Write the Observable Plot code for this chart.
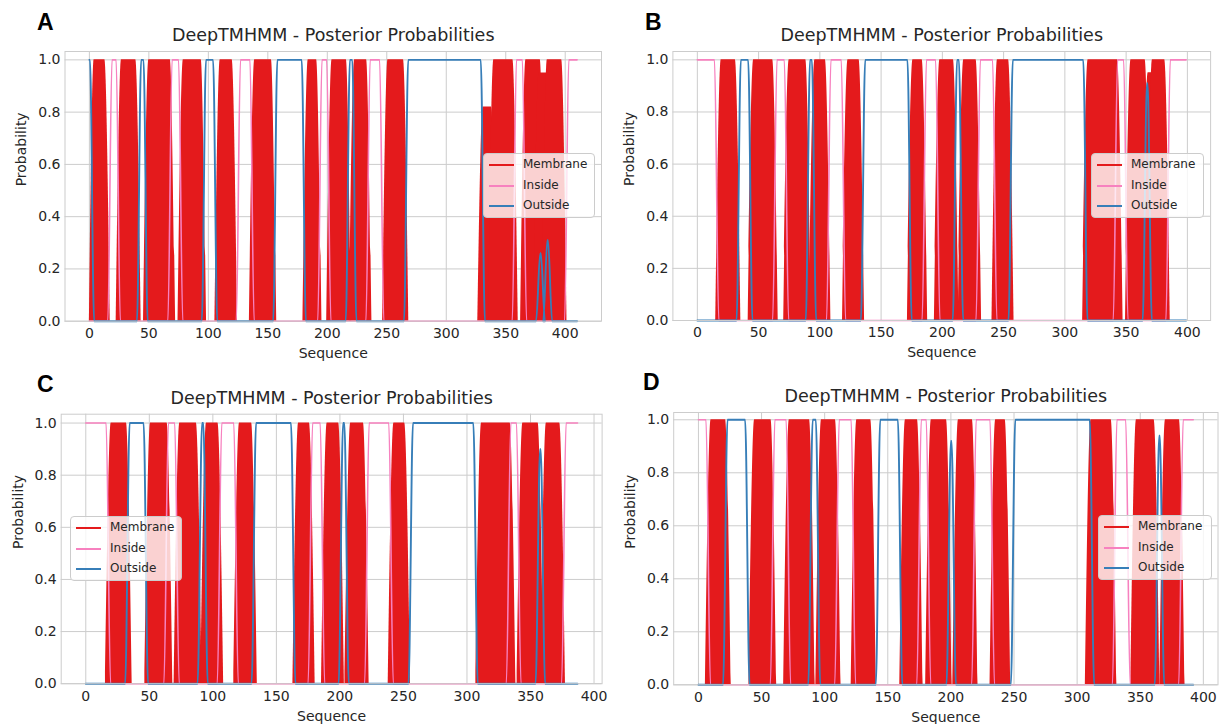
<!DOCTYPE html>
<html>
<head>
<meta charset="utf-8">
<script src="https://cdn.jsdelivr.net/npm/d3@7"></script>
<script src="https://cdn.jsdelivr.net/npm/@observablehq/plot@0.6"></script>
<style>
  body { margin: 0; background: #fff; font-family: "DejaVu Sans", sans-serif; }
  #wrap { position: relative; width: 1219px; height: 724px; overflow: hidden; background: #fff; }
  .panel { position: absolute; }
  .panel svg { position: absolute; left: 0; top: 0; overflow: visible; }
  .letter { position: absolute; font-family: "Liberation Sans", Arial, sans-serif; font-weight: bold; font-size: 23px; line-height: 1; color: #000; }
  .legend { position: absolute; background: rgba(255,255,255,0.8); border: 1px solid #cccccc; border-radius: 4px; box-sizing: border-box; font-family: "DejaVu Sans", sans-serif; font-size: 12px; color: #262626; }
  .legend .row { position: absolute; left: 0; height: 14px; }
  .legend .sw { position: absolute; left: 5px; top: 6px; width: 25px; height: 2px; }
  .legend .lb { position: absolute; left: 39px; top: -1px; white-space: nowrap; line-height: 14px; }
</style>
</head>
<body>
<div id="wrap"></div>
<script>
// ---------- data ----------
const seriesNames = ["Membrane", "Inside", "Outside"];
const seriesColors = ["#e41a1c", "#f781bf", "#377eb8"];
const chartTitle = "DeepTMHMM - Posterior Probabilities";
const xTicks = [0, 50, 100, 150, 200, 250, 300, 350, 400];
const yTicks = [0, 0.2, 0.4, 0.6, 0.8, 1.0];
const panelLetters = ["A", "B", "C", "D"];
const seqLengths = [410, 399, 387, 392];

// segments: [start, end, peak(optional)] -- plateau of the posterior probability
const membraneA = [[4,13],[27,39],[50,68],[79,94],[110,120],[139,153],[184,191],[204,216],[223,233],[251,264],[331,338,0.82],[340,356],[367,379],[378,385,0.95],[385,397]];
const insideA   = [[19,22.5],[69.5,75],[127,135],[195.5,199.5],[236,244],[359,364],[403,410]];
const outsideA  = [[0,0.5],[43.5,45.5],[98,104],[158,178.5],[219,221],[268,329],[379,379.5,0.26],[385,385.5,0.31]];

const membraneB = [[19.5,31],[46,61.5],[75,88.5],[96,104.5],[123,132],[176,183.5],[198,209],[217.5,227.5],[245,254],[319,343],[354,365.5],[368,371,0.95],[371.5,381.5]];
const insideB   = [[0,14],[65,71],[109,117.5],[187,194.5],[231,241],[343,348],[386,399]];
const outsideB  = [[35.5,41.5],[92,93.5],[137,171.5],[212,213.5],[257.5,315],[367,367.5,0.91]];

const membraneC = [[20,32],[51,64],[74,87],[95,104],[121,130.5],[167.5,176],[190,199],[208.5,218.5],[242.5,251],[311.5,334],[344,356],[362.5,373]];
const insideC   = [[0,16],[65,70],[107,116.5],[178.5,184.5],[223,238.5],[334.5,339],[378,387]];
const outsideC  = [[34.5,45.5],[91.5,92.5],[134,161.5],[202.5,203.5],[257.5,305],[357.5,358,0.9]];

const membraneD = [[10,21.5],[44.5,57.5],[72,88],[97.5,108.5],[125.5,136.5],[164,173.5],[184.5,196.5],[206,217],[235.5,243],[311,327],[347,361],[370,381]];
const insideD   = [[0,6],[60.5,69.5],[111.5,121],[176.5,180.5],[220,231],[331.5,338.5],[384,392]];
const outsideD  = [[23,37],[90.5,93],[144,158],[200,200.5,0.92],[251,310],[365,365.5,0.94]];

// ---------- layout ----------
const layout = [
  {left: 0,   top: 0,   w: 610, h: 362, ml: 64.5, mr: 9,   mt: 51,   mb: 41.3, ymax: 1.032,
   legend: {l: 483, t: 153, w: 112, h: 65}, letter: {l: 37, t: 11}},
  {left: 610, top: 0,   w: 609, h: 362, ml: 62.4, mr: 8.9, mt: 51,   mb: 42,   ymax: 1.032,
   legend: {l: 481, t: 153, w: 113, h: 65}, letter: {l: 35, t: 11}},
  {left: 0,   top: 362, w: 610, h: 362, ml: 60.7, mr: 8.4, mt: 51.7, mb: 40.8, ymax: 1.034,
   legend: {l: 70, t: 154, w: 112, h: 65}, letter: {l: 37, t: 11}},
  {left: 610, top: 362, w: 609, h: 362, ml: 63.2, mr: 1.5, mt: 50,   mb: 39.7, ymax: 1.0275,
   legend: {l: 488, t: 153, w: 114, h: 65}, letter: {l: 33, t: 9}}
];

const panelsData = [
  [membraneA, insideA, outsideA],
  [membraneB, insideB, outsideB],
  [membraneC, insideC, outsideC],
  [membraneD, insideD, outsideD]
];

function lineRows(segs, L, r) {
  const pts = [];
  segs.forEach(([s, e, p = 1], i) => {
    if (s <= 0) { pts.push([0, p]); }
    else {
      if (i === 0) pts.push([0, 0]);
      pts.push([Math.max(0, s - r), 0], [s, p]);
    }
    if (e >= L) { pts.push([L, p]); }
    else {
      pts.push([e, p], [Math.min(L, e + r), 0]);
      if (i === segs.length - 1) pts.push([L, 0]);
    }
  });
  // drop repeated x positions so the smooth curve stays well defined
  const out = [];
  for (const [x, y] of pts) {
    if (out.length && Math.abs(out[out.length - 1].x - x) < 1e-9) continue;
    out.push({x, y});
  }
  return out;
}

function membraneRows(segs, L, r) {
  const rows = [];
  segs.forEach(([s, e, p = 1], i) => {
    rows.push({seg: i, x: Math.max(0, s - r), y: 0});
    rows.push({seg: i, x: s, y: p});
    rows.push({seg: i, x: e, y: p});
    rows.push({seg: i, x: Math.min(L, e + r), y: 0});
  });
  return rows;
}

const wrap = document.getElementById("wrap");
const textColor = "#262626";
const gridColor = "#cccccc";

layout.forEach((lay, k) => {
  const L = seqLengths[k];
  const [mem, ins, out] = panelsData[k];
  const memRows = membraneRows(mem, L, 4.5);
  const insRows = lineRows(ins, L, 3.5);
  const outRows = lineRows(out, L, 3.5);

  const chart = Plot.plot({
    width: lay.w, height: lay.h,
    marginLeft: lay.ml, marginRight: lay.mr, marginTop: lay.mt, marginBottom: lay.mb,
    style: {fontFamily: "DejaVu Sans", fontSize: "14px", color: textColor, background: "transparent", overflow: "visible"},
    x: {domain: [-0.05 * L, 1.05 * L]},
    y: {domain: [0, lay.ymax]},
    marks: [
      Plot.gridX(xTicks, {stroke: gridColor, strokeOpacity: 1, strokeWidth: 1}),
      Plot.gridY(yTicks, {stroke: gridColor, strokeOpacity: 1, strokeWidth: 1}),
      Plot.areaY(memRows, {x: "x", y1: 0, y2: "y", z: "seg", fill: seriesColors[0], curve: "monotone-x"}),
      Plot.line(insRows, {x: "x", y: "y", stroke: seriesColors[1], strokeWidth: 1.6, curve: "monotone-x"}),
      Plot.line(outRows, {x: "x", y: "y", stroke: seriesColors[2], strokeWidth: 1.9, curve: "monotone-x"}),
      Plot.frame({stroke: gridColor, strokeWidth: 1}),
      Plot.axisX(xTicks, {tickSize: 0, tickPadding: 7, fontSize: 14, fill: textColor, label: null}),
      Plot.axisY(yTicks, {tickSize: 0, tickPadding: 4.5, fontSize: 14, fill: textColor, label: null, tickFormat: d3.format(".1f")}),
      Plot.text([chartTitle], {frameAnchor: "top", dy: -16, lineAnchor: "middle", fontSize: 17.5, fill: textColor}),
      Plot.text(["Sequence"], {frameAnchor: "bottom", dy: 32.5, lineAnchor: "middle", fontSize: 14, fill: textColor}),
      Plot.text(["Probability"], {frameAnchor: "left", dx: -43, rotate: -90, lineAnchor: "middle", fontSize: 14, fill: textColor})
    ]
  });

  const div = document.createElement("div");
  div.className = "panel";
  div.style.left = lay.left + "px";
  div.style.top = lay.top + "px";
  div.style.width = lay.w + "px";
  div.style.height = lay.h + "px";
  div.appendChild(chart);

  const lg = document.createElement("div");
  lg.className = "legend";
  lg.style.left = lay.legend.l + "px";
  lg.style.top = lay.legend.t + "px";
  lg.style.width = lay.legend.w + "px";
  lg.style.height = lay.legend.h + "px";
  seriesNames.forEach((name, i) => {
    const row = document.createElement("div");
    row.className = "row";
    row.style.top = (4 + i * 20.5) + "px";
    row.style.width = "100%";
    const sw = document.createElement("div");
    sw.className = "sw";
    sw.style.background = seriesColors[i];
    const lb = document.createElement("div");
    lb.className = "lb";
    lb.textContent = name;
    row.appendChild(sw);
    row.appendChild(lb);
    lg.appendChild(row);
  });
  div.appendChild(lg);

  const let_ = document.createElement("div");
  let_.className = "letter";
  let_.style.left = lay.letter.l + "px";
  let_.style.top = lay.letter.t + "px";
  let_.textContent = panelLetters[k];
  div.appendChild(let_);

  wrap.appendChild(div);
});
</script>
</body>
</html>
